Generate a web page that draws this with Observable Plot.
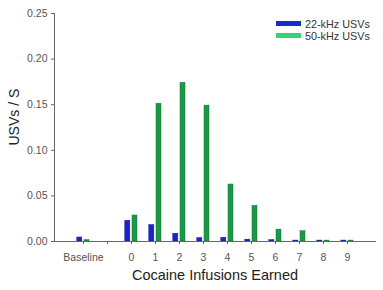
<!DOCTYPE html>
<html>
<head>
<meta charset="utf-8">
<script src="https://cdn.jsdelivr.net/npm/d3@7"></script>
<script src="https://cdn.jsdelivr.net/npm/@observablehq/plot@0.6"></script>
<style>
  html, body { margin: 0; padding: 0; background: #fff; }
  #wrap { position: relative; width: 383px; height: 290px; font-family: "Liberation Sans", Arial, sans-serif; }
  #legend { position: absolute; left: 276px; top: 17.5px; font-size: 10.8px; color: #333; line-height: 12px; }
  #legend .row { display: flex; align-items: center; }
  #legend .sw { width: 25px; height: 5px; margin-right: 4px; }
  .tk text { font-family: "Liberation Sans Narrow", "Arial Narrow", "Liberation Sans", sans-serif; }
</style>
</head>
<body>
<div id="wrap"><div id="legend"></div></div>
<script>
const categories = ["Baseline", "gap", "0", "1", "2", "3", "4", "5", "6", "7", "8", "9"];
const tickLabels = ["Baseline", "", "0", "1", "2", "3", "4", "5", "6", "7", "8", "9"];
const barCategories = ["Baseline", "0", "1", "2", "3", "4", "5", "6", "7", "8", "9"];
const series = ["22-kHz USVs", "50-kHz USVs"];
const khz22 = [0.0044, 0.0227, 0.018, 0.0085, 0.0037, 0.004, 0.002, 0.0015, 0.001, 0.001, 0.001];
const khz50 = [0.0015, 0.0285, 0.151, 0.174, 0.149, 0.0625, 0.039, 0.013, 0.0113, 0.001, 0.001];
const yTicks = [0, 0.05, 0.10, 0.15, 0.20, 0.25];
const barColors = ["#1b22d2", "#1a9a48"];
const barStrokes = ["#10168f", "#12743a"];
const legendColors = ["#1a2bc9", "#2fd47c"];

const d22 = barCategories.map((c, i) => ({cat: c, value: khz22[i]}));
const d50 = barCategories.map((c, i) => ({cat: c, value: khz50[i]}));

const chart = Plot.plot({
  width: 383,
  height: 290,
  marginLeft: 54,
  marginRight: 8,
  marginTop: 13,
  marginBottom: 49,
  style: {fontFamily: "'Liberation Sans', Arial, sans-serif", background: "#fff"},
  x: {type: "band", domain: categories, paddingInner: 0.5, paddingOuter: 0.8},
  y: {domain: [0, 0.25]},
  marks: [
    Plot.barY(d22, {x: "cat", y: "value", fill: barColors[0], stroke: barStrokes[0], strokeWidth: 0.5, insetLeft: -0.2, insetRight: 7.2}),
    Plot.barY(d50, {x: "cat", y: "value", fill: barColors[1], stroke: barStrokes[1], strokeWidth: 0.5, insetLeft: 7, insetRight: 0}),
    Plot.frame({anchor: "left", stroke: "#666"}),
    Plot.frame({anchor: "bottom", stroke: "#666"}),
    Plot.axisX({className: "tk", tickSize: 3, tickPadding: 9, fontSize: 10.5, color: "#555", stroke: "#666", label: null,
      tickFormat: d => tickLabels[categories.indexOf(d)]}),
    Plot.axisY({className: "tk", ticks: yTicks, tickSize: 3, tickPadding: 4, fontSize: 10.5, color: "#555", stroke: "#666", label: null,
      tickFormat: d3.format(".2f")}),
    Plot.text(["Cocaine Infusions Earned"], {frameAnchor: "bottom", dy: 38, fontSize: 14.5, fill: "#222"}),
    Plot.text(["USVs / S"], {frameAnchor: "left", rotate: -90, dx: -40, dy: 18, fontSize: 14, fill: "#222"})
  ]
});
document.getElementById("wrap").prepend(chart);

const legend = document.getElementById("legend");
series.forEach((s, i) => {
  const row = document.createElement("div");
  row.className = "row";
  const sw = document.createElement("span");
  sw.className = "sw";
  sw.style.background = legendColors[i];
  const t = document.createElement("span");
  t.textContent = s;
  row.append(sw, t);
  legend.append(row);
});
</script>
</body>
</html>
